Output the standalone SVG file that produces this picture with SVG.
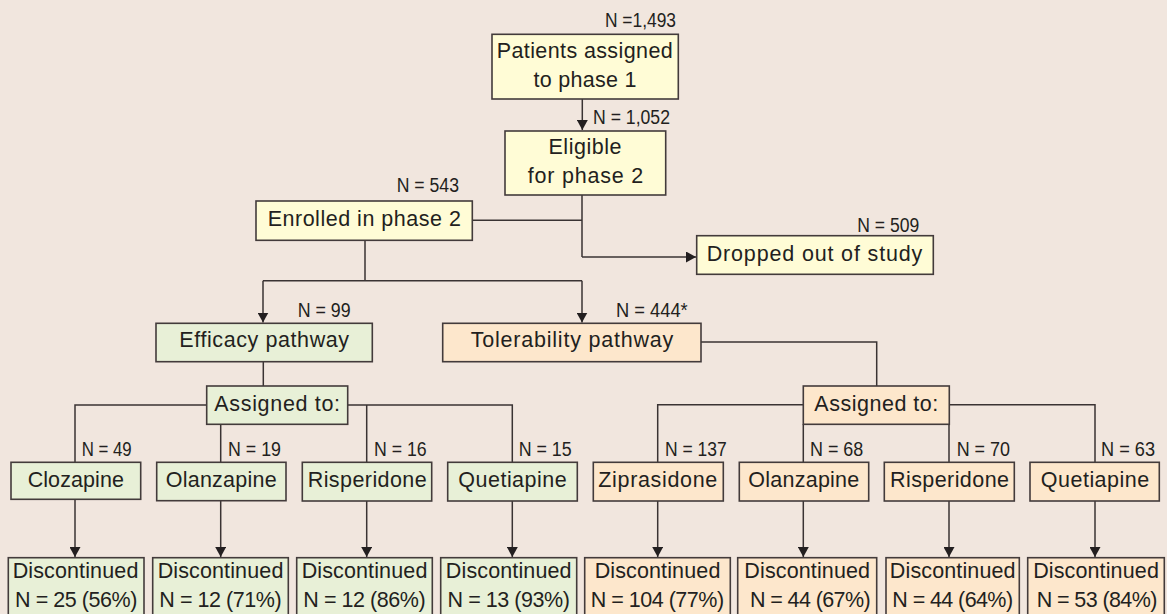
<svg xmlns="http://www.w3.org/2000/svg" width="1167" height="614" viewBox="0 0 1167 614">
<style>
.bg{fill:#f1e6de}
.box{stroke:#433b3b;stroke-width:1.6}
.y{fill:#fffcd6}
.g{fill:#e8f0d7}
.o{fill:#fde7cc}
.t{font-family:"Liberation Sans",Arial,sans-serif;font-size:21.5px;fill:#231f20;text-anchor:middle}
.n{font-family:"Liberation Sans",Arial,sans-serif;font-size:20px;fill:#231f20}
.c{fill:none;stroke:#3a3333;stroke-width:1.5}
.a{marker-end:url(#ah)}
</style>
<defs>
<marker id="ah" markerUnits="userSpaceOnUse" markerWidth="12" markerHeight="11" refX="10" refY="5.5" orient="auto">
<path d="M0,0 L10,5.5 L0,11 z" fill="#231f20"/>
</marker>
</defs>
<rect class="bg" x="0" y="0" width="1167" height="614"/>

<g id="connectors">
<path class="c a" d="M582.3,99 V130"/>
<path class="c" d="M472.3,220.3 H582 M582,195 V257"/>
<path class="c a" d="M582,257 H696"/>
<path class="c" d="M365,240.3 V280.7 M263,280.7 H582"/>
<path class="c a" d="M263,280.7 V322.5"/>
<path class="c a" d="M582,280.7 V322.5"/>
<path class="c" d="M263.3,362 V386"/>
<path class="c" d="M701,342 H876.7 V386"/>
<path class="c" d="M206.7,405 H75 V462 M347.7,405 H512.3 V462 M220.7,424.3 V462 M366.7,405 V462"/>
<path class="c" d="M803.3,404.7 H657.7 V462 M949.3,404.7 H1095 V462 M803.3,424.3 V462 M949,424.3 V462"/>
<path class="c a" d="M75,499 V557"/>
<path class="c a" d="M220.7,501 V557"/>
<path class="c a" d="M366.7,501 V557"/>
<path class="c a" d="M512.3,501 V557"/>
<path class="c a" d="M657.7,501 V557"/>
<path class="c a" d="M803.3,501 V557"/>
<path class="c a" d="M949,501 V557"/>
<path class="c a" d="M1095,501 V557"/>
</g>

<g id="patients">
<rect class="box y" x="492" y="34.3" width="186.3" height="64.7"/>
<text class="t" x="584.7" y="58" textLength="176">Patients assigned</text>
<text class="t" x="585" y="87" textLength="103">to phase 1</text>
<text class="n" x="605" y="27" textLength="71" lengthAdjust="spacingAndGlyphs">N =1,493</text>
</g>
<g id="eligible">
<rect class="box y" x="505" y="131" width="160.7" height="64"/>
<text class="t" x="585" y="154" textLength="73">Eligible</text>
<text class="t" x="585.5" y="182.7" textLength="115.6">for phase 2</text>
<text class="n" x="593" y="124" textLength="77" lengthAdjust="spacingAndGlyphs">N = 1,052</text>
</g>
<g id="enrolled">
<rect class="box y" x="256" y="201" width="216.3" height="39.3"/>
<text class="t" x="364.3" y="226" textLength="193.3">Enrolled in phase 2</text>
<text class="n" x="396.7" y="191.7" textLength="62.3" lengthAdjust="spacingAndGlyphs">N = 543</text>
</g>
<g id="dropped">
<rect class="box y" x="696.7" y="235.7" width="236.6" height="38.6"/>
<text class="t" x="814.5" y="260.7" textLength="215.6">Dropped out of study</text>
<text class="n" x="857.3" y="231.7" textLength="62" lengthAdjust="spacingAndGlyphs">N = 509</text>
</g>
<g id="efficacy">
<rect class="box g" x="156" y="323.3" width="216.3" height="38.4"/>
<text class="t" x="264.2" y="347.3" textLength="169.7">Efficacy pathway</text>
<text class="n" x="297.7" y="316.7" textLength="53" lengthAdjust="spacingAndGlyphs">N = 99</text>
</g>
<g id="tolerability">
<rect class="box o" x="442.7" y="323.3" width="258.3" height="38.4"/>
<text class="t" x="572" y="347.3" textLength="202.6">Tolerability pathway</text>
<text class="n" x="616" y="317.3" textLength="71.7" lengthAdjust="spacingAndGlyphs">N = 444*</text>
</g>
<g id="assigned-eff">
<rect class="box g" x="206.7" y="386" width="141" height="38.3"/>
<text class="t" x="277.2" y="411" textLength="125.7">Assigned to:</text>
</g>
<g id="assigned-tol">
<rect class="box o" x="803.3" y="386" width="146" height="38.3"/>
<text class="t" x="876.3" y="411" textLength="124">Assigned to:</text>
</g>

<g id="clozapine">
<rect class="box g" x="11" y="462.3" width="129.7" height="37"/>
<text class="t" x="75.8" y="486.7" textLength="96.3">Clozapine</text>
<text class="n" x="81.7" y="456" textLength="50" lengthAdjust="spacingAndGlyphs">N = 49</text>
</g>
<g id="olanzapine-eff">
<rect class="box g" x="156.7" y="462.3" width="129.3" height="38.4"/>
<text class="t" x="221.2" y="486.7" textLength="111">Olanzapine</text>
<text class="n" x="228" y="456" textLength="53" lengthAdjust="spacingAndGlyphs">N = 19</text>
</g>
<g id="risperidone-eff">
<rect class="box g" x="302.3" y="462.3" width="129.4" height="38.7"/>
<text class="t" x="367.2" y="486.7" textLength="119">Risperidone</text>
<text class="n" x="374" y="456" textLength="52.7" lengthAdjust="spacingAndGlyphs">N = 16</text>
</g>
<g id="quetiapine-eff">
<rect class="box g" x="447.7" y="462.3" width="129.6" height="38.7"/>
<text class="t" x="512.5" y="486.7" textLength="108.3">Quetiapine</text>
<text class="n" x="518.7" y="456" textLength="53" lengthAdjust="spacingAndGlyphs">N = 15</text>
</g>
<g id="ziprasidone">
<rect class="box o" x="593.3" y="462.3" width="130" height="38.7"/>
<text class="t" x="657.8" y="486.7" textLength="119">Ziprasidone</text>
<text class="n" x="665" y="456" textLength="61.7" lengthAdjust="spacingAndGlyphs">N = 137</text>
</g>
<g id="olanzapine-tol">
<rect class="box o" x="739.3" y="462.3" width="129.4" height="38.7"/>
<text class="t" x="803.8" y="486.7" textLength="111">Olanzapine</text>
<text class="n" x="810" y="456" textLength="53.3" lengthAdjust="spacingAndGlyphs">N = 68</text>
</g>
<g id="risperidone-tol">
<rect class="box o" x="884.3" y="462.3" width="130" height="38.7"/>
<text class="t" x="949.5" y="486.7" textLength="119">Risperidone</text>
<text class="n" x="956.7" y="456" textLength="53.3" lengthAdjust="spacingAndGlyphs">N = 70</text>
</g>
<g id="quetiapine-tol">
<rect class="box o" x="1030" y="462.3" width="129.3" height="38.7"/>
<text class="t" x="1095" y="486.7" textLength="108.3">Quetiapine</text>
<text class="n" x="1101" y="456" textLength="54" lengthAdjust="spacingAndGlyphs">N = 63</text>
</g>

<g id="disc-1">
<rect class="box g" x="8.3" y="557.7" width="135.7" height="64"/>
<text class="t" x="75.5" y="578.3" textLength="125.7">Discontinued</text>
<text class="t" x="76.2" y="607" textLength="122.3">N = 25 (56%)</text>
</g>
<g id="disc-2">
<rect class="box g" x="152.7" y="557.7" width="135.6" height="64"/>
<text class="t" x="220.5" y="578.3" textLength="125.7">Discontinued</text>
<text class="t" x="220.5" y="607" textLength="122.3">N = 12 (71%)</text>
</g>
<g id="disc-3">
<rect class="box g" x="296.7" y="557.7" width="135.6" height="64"/>
<text class="t" x="364.5" y="578.3" textLength="125.7">Discontinued</text>
<text class="t" x="364.5" y="607" textLength="122.3">N = 12 (86%)</text>
</g>
<g id="disc-4">
<rect class="box g" x="440.7" y="557.7" width="136" height="64"/>
<text class="t" x="508.7" y="578.3" textLength="125.7">Discontinued</text>
<text class="t" x="508.7" y="607" textLength="122.3">N = 13 (93%)</text>
</g>
<g id="disc-5">
<rect class="box o" x="584.7" y="557.7" width="145.6" height="64"/>
<text class="t" x="657.5" y="578.3" textLength="125.7">Discontinued</text>
<text class="t" x="657.4" y="607" textLength="133.3">N = 104 (77%)</text>
</g>
<g id="disc-6">
<rect class="box o" x="737.7" y="557.7" width="139" height="64"/>
<text class="t" x="807.2" y="578.3" textLength="125.7">Discontinued</text>
<text class="t" x="810.3" y="607" textLength="120.7">N = 44 (67%)</text>
</g>
<g id="disc-7">
<rect class="box o" x="886" y="557.7" width="133.3" height="64"/>
<text class="t" x="952.7" y="578.3" textLength="125.7">Discontinued</text>
<text class="t" x="952.7" y="607" textLength="120.7">N = 44 (64%)</text>
</g>
<g id="disc-8">
<rect class="box o" x="1027.7" y="557.7" width="136.6" height="64"/>
<text class="t" x="1096" y="578.3" textLength="125.7">Discontinued</text>
<text class="t" x="1097" y="607" textLength="120.7">N = 53 (84%)</text>
</g>
</svg>
